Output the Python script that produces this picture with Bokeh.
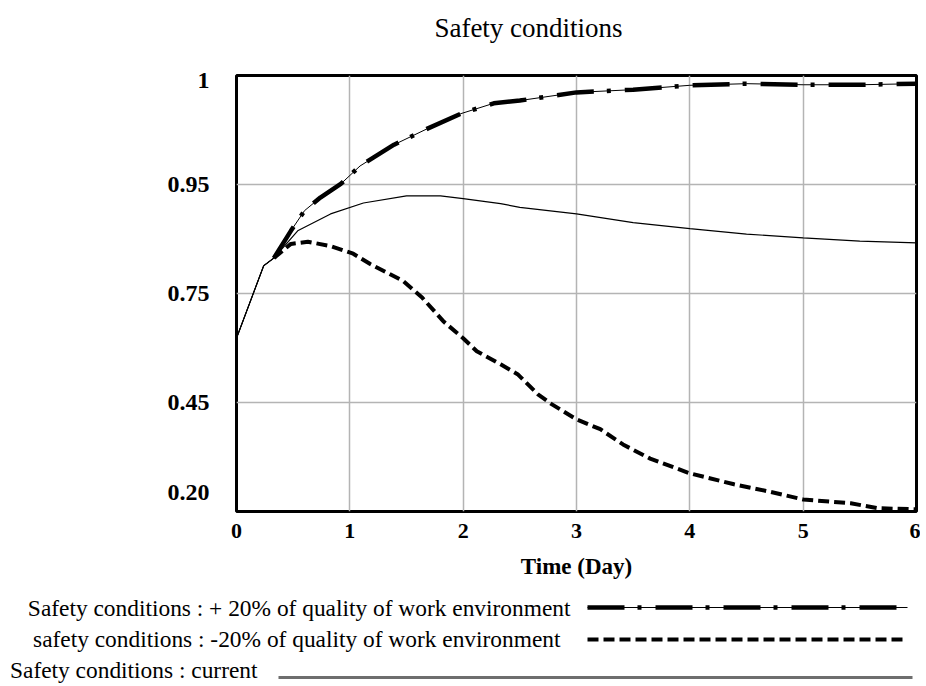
from bokeh.plotting import figure
from bokeh.models import FixedTicker, Range1d
from bokeh.layouts import column
from bokeh.embed import file_html
from bokeh.resources import INLINE
from bokeh.core.properties import value

# ---------------- data ----------------
title_text = "Safety conditions"
x_label = "Time (Day)"
x_ticks = [0, 1, 2, 3, 4, 5, 6]
y_grid = [0.2, 0.4, 0.6, 0.8, 1.0]
y_tick_pos = [0.235, 0.40, 0.60, 0.80, 0.99]
y_tick_labels = ["0.20", "0.45", "0.75", "0.95", "1"]

t_current = [0, 0.24, 0.33, 0.54, 0.83, 1.12, 1.5, 1.8, 2.0, 2.33, 2.5,
             3.0, 3.5, 4.0, 4.5, 5.0, 5.5, 6.0]
current = [0.518, 0.651, 0.665, 0.715, 0.746, 0.766, 0.779, 0.779, 0.774,
           0.765, 0.758, 0.746, 0.730, 0.719, 0.709, 0.702, 0.696, 0.693]

t_plus = [0, 0.24, 0.33, 0.48, 0.6, 0.74, 0.92, 1.09, 1.39, 1.69, 1.98,
          2.27, 2.5, 3.0, 3.5, 4.0, 4.5, 5.0, 5.5, 6.0]
plus20 = [0.518, 0.651, 0.665, 0.715, 0.752, 0.776, 0.801, 0.834, 0.873,
          0.903, 0.930, 0.949, 0.954, 0.969, 0.974, 0.982, 0.985, 0.983,
          0.983, 0.985]

t_minus = [0, 0.24, 0.33, 0.48, 0.63, 0.83, 1.03, 1.18, 1.47, 1.64, 1.83,
           2.0, 2.12, 2.33, 2.48, 2.66, 2.78, 3.0, 3.21, 3.41, 3.65, 4.0,
           4.39, 4.69, 5.0, 5.42, 5.66, 6.0]
minus20 = [0.518, 0.651, 0.665, 0.691, 0.695, 0.687, 0.673, 0.654, 0.623,
           0.592, 0.548, 0.518, 0.494, 0.470, 0.452, 0.415, 0.397, 0.369,
           0.351, 0.323, 0.297, 0.270, 0.250, 0.237, 0.222, 0.215, 0.206,
           0.204]

legend_labels = [
    "Safety conditions : + 20% of quality of work environment",
    "safety conditions : -20% of quality of work environment",
    "Safety conditions : current",
]

# ---------------- styles ----------------
FONT = "Liberation Serif"
W = 920
DASHDOT = "37 13 4 14"
DASHED = "11 5"
SPLIT = 2  # the shared start of the runs is drawn thin, as in the source


def blank_panel(h):
    f = figure(width=W, height=h, x_range=Range1d(0, W), y_range=Range1d(0, h),
               output_backend="svg", toolbar_location=None,
               min_border_left=0, min_border_right=0, min_border_top=0,
               min_border_bottom=0)
    f.frame_align = False
    f.axis.visible = False
    f.grid.visible = False
    f.outline_line_color = None
    return f


# ---------------- title panel ----------------
H0 = 50
t = blank_panel(H0)
t.text(x=[528], y=[23], text=[title_text], text_align="center",
       text_baseline="middle", text_font=value(FONT), text_font_size="27px",
       text_color="black")

# ---------------- main chart ----------------
p = figure(width=W, height=538, x_range=Range1d(0, 6), y_range=Range1d(0.2, 1.0),
           output_backend="svg", toolbar_location=None,
           min_border_left=236, min_border_right=4, min_border_top=25,
           min_border_bottom=77)
p.frame_align = False

p.outline_line_color = "black"
p.outline_line_width = 3

p.xaxis.ticker = FixedTicker(ticks=x_ticks)
p.yaxis.ticker = FixedTicker(ticks=y_tick_pos)
p.yaxis.major_label_overrides = {v: s for v, s in zip(y_tick_pos, y_tick_labels)}
p.xgrid.ticker = FixedTicker(ticks=x_ticks)
p.ygrid.ticker = FixedTicker(ticks=y_grid)
p.grid.grid_line_color = "#b4b4b4"
p.grid.grid_line_width = 1.5

for ax in (p.xaxis, p.yaxis):
    ax.axis_line_color = None
    ax.major_tick_line_color = None
    ax.minor_tick_line_color = None
    ax.major_label_text_font = FONT
    ax.major_label_text_font_style = "bold"
    ax.major_label_text_color = "black"

p.xaxis.major_label_text_font_size = "22px"
p.yaxis.major_label_text_font_size = "24px"
p.xaxis.major_label_standoff = 6
p.yaxis.major_label_standoff = 21
p.xaxis.axis_label = x_label
p.xaxis.axis_label_text_font = FONT
p.xaxis.axis_label_text_font_style = "bold"
p.xaxis.axis_label_text_font_size = "23px"
p.xaxis.axis_label_text_color = "black"
p.xaxis.axis_label_standoff = 13

p.line(t_current, current, line_color="black", line_width=1.2)
p.line(t_plus, plus20, line_color="black", line_width=1)
p.line(t_plus[SPLIT:], plus20[SPLIT:], line_color="black", line_width=4.5,
       line_dash=DASHDOT)
p.line(t_minus[:SPLIT + 1], minus20[:SPLIT + 1], line_color="black", line_width=1)
p.line(t_minus[SPLIT:], minus20[SPLIT:], line_color="black", line_width=4,
       line_dash=DASHED)

# ---------------- legend panel ----------------
H2 = 96
q = blank_panel(H2)
q.text(x=[570, 560, 257], y=[77, 46, 15], text=legend_labels,
       text_align="right", text_baseline="middle",
       text_font=value(FONT), text_font_size="23.4px", text_color="black")

q.line([587, 907], [77, 77], line_color="black", line_width=1)
q.line([587, 907], [77, 77], line_color="black", line_width=4.5, line_dash=DASHDOT)
q.line([587, 907], [45, 45], line_color="black", line_width=4, line_dash=DASHED)
q.line([278, 912], [7, 7], line_color="#6e6e6e", line_width=3)

layout = column(t, p, q, spacing=0)
open("out.html", "w").write(file_html(layout, INLINE))
